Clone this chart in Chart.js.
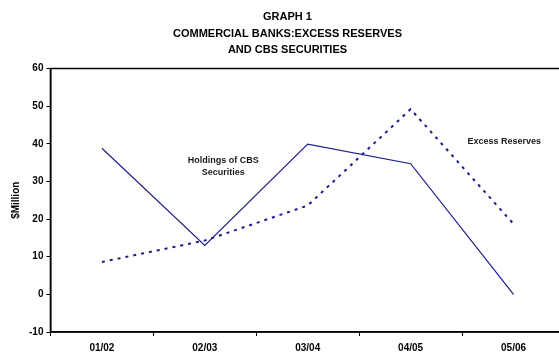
<!DOCTYPE html>
<html>
<head>
<meta charset="utf-8">
<script src="https://cdn.jsdelivr.net/npm/chart.js@4.4.0/dist/chart.umd.min.js"></script>
<style>
  html, body { margin: 0; padding: 0; background: #fff; overflow: hidden; }
  canvas { display: block; }
</style>
</head>
<body>
<canvas id="grafico" width="565" height="354"></canvas>
<script>
const anni = ["01/02", "02/03", "03/04", "04/05", "05/06"];
const titoli = ["Holdings of CBS Securities", "Excess Reserves"];
const holdingsCBS = [38.8, 13.0, 39.9, 34.7, 0.0];
const excessReserves = [8.6, 14.3, 23.6, 49.2, 18.7];
const tickY = [-10, 0, 10, 20, 30, 40, 50, 60];

// box around the plot area + series notes
const cornice = {
  id: "cornice",
  afterDraw(chart) {
    const { ctx, chartArea: a, scales } = chart;
    ctx.save();
    ctx.strokeStyle = "#000";
    ctx.lineWidth = 1.5;
    ctx.strokeRect(a.left, a.top, a.right - a.left, a.bottom - a.top);

    ctx.fillStyle = "#1a1a1a";
    ctx.font = "bold 9px Arial, 'Liberation Sans', sans-serif";
    ctx.textAlign = "center";
    ctx.textBaseline = "middle";
    const x1 = scales.x.getPixelForValue(1.18);
    ctx.fillText("Holdings of CBS", x1, scales.y.getPixelForValue(35.6));
    ctx.fillText("Securities", x1, scales.y.getPixelForValue(32.4));
    ctx.fillText(titoli[1], scales.x.getPixelForValue(3.91), scales.y.getPixelForValue(40.6));
    ctx.restore();
  },
};

const canvas = document.getElementById("grafico");
const grafico = new Chart(canvas, {
  type: "line",
  data: {
    labels: anni,
    datasets: [
      {
        label: titoli[0],
        data: holdingsCBS,
        borderColor: "#1c1c8c",
        borderWidth: 1.2,
        pointRadius: 0,
        tension: 0,
      },
      {
        label: titoli[1],
        data: excessReserves,
        borderColor: "#1c1c8c",
        borderWidth: 2,
        borderDash: [3, 5],
        pointRadius: 0,
        tension: 0,
      },
    ],
  },
  options: {
    responsive: false,
    animation: false,
    devicePixelRatio: 1,
    layout: { padding: { left: 10, right: 0, top: 0, bottom: 0 } },
    plugins: {
      legend: { display: false },
      tooltip: { enabled: false },
      title: {
        display: true,
        text: ["GRAPH 1", "COMMERCIAL BANKS:EXCESS RESERVES", "AND CBS SECURITIES"],
        color: "#000",
        font: { family: "Arial, 'Liberation Sans', sans-serif", size: 11, weight: "bold", lineHeight: 1.5 },
        padding: { top: 9, bottom: 10 },
      },
    },
    scales: {
      x: {
        offset: true,
        afterFit(scale) {
          scale.height = 22;
        },
        grid: { offset: true, drawOnChartArea: false, drawTicks: true, tickLength: 4, color: "#000" },
        border: { display: true, color: "#000", width: 1.5 },
        ticks: {
          color: "#000",
          padding: 6,
          font: { family: "Arial, 'Liberation Sans', sans-serif", size: 10, weight: "bold" },
        },
      },
      y: {
        min: tickY[0],
        max: tickY[tickY.length - 1],
        afterBuildTicks(scale) {
          scale.ticks = tickY.map((v) => ({ value: v }));
        },
        grid: { drawOnChartArea: false, drawTicks: true, tickLength: 4, color: "#000" },
        border: { display: true, color: "#000", width: 1.5 },
        ticks: {
          color: "#000",
          padding: 3,
          font: { family: "Arial, 'Liberation Sans', sans-serif", size: 10, weight: "bold" },
        },
        title: {
          display: true,
          text: "$Million",
          color: "#000",
          font: { family: "Arial, 'Liberation Sans', sans-serif", size: 10, weight: "bold" },
          padding: { top: 0, bottom: 4 },
        },
      },
    },
  },
  plugins: [cornice],
});
</script>
</body>
</html>
